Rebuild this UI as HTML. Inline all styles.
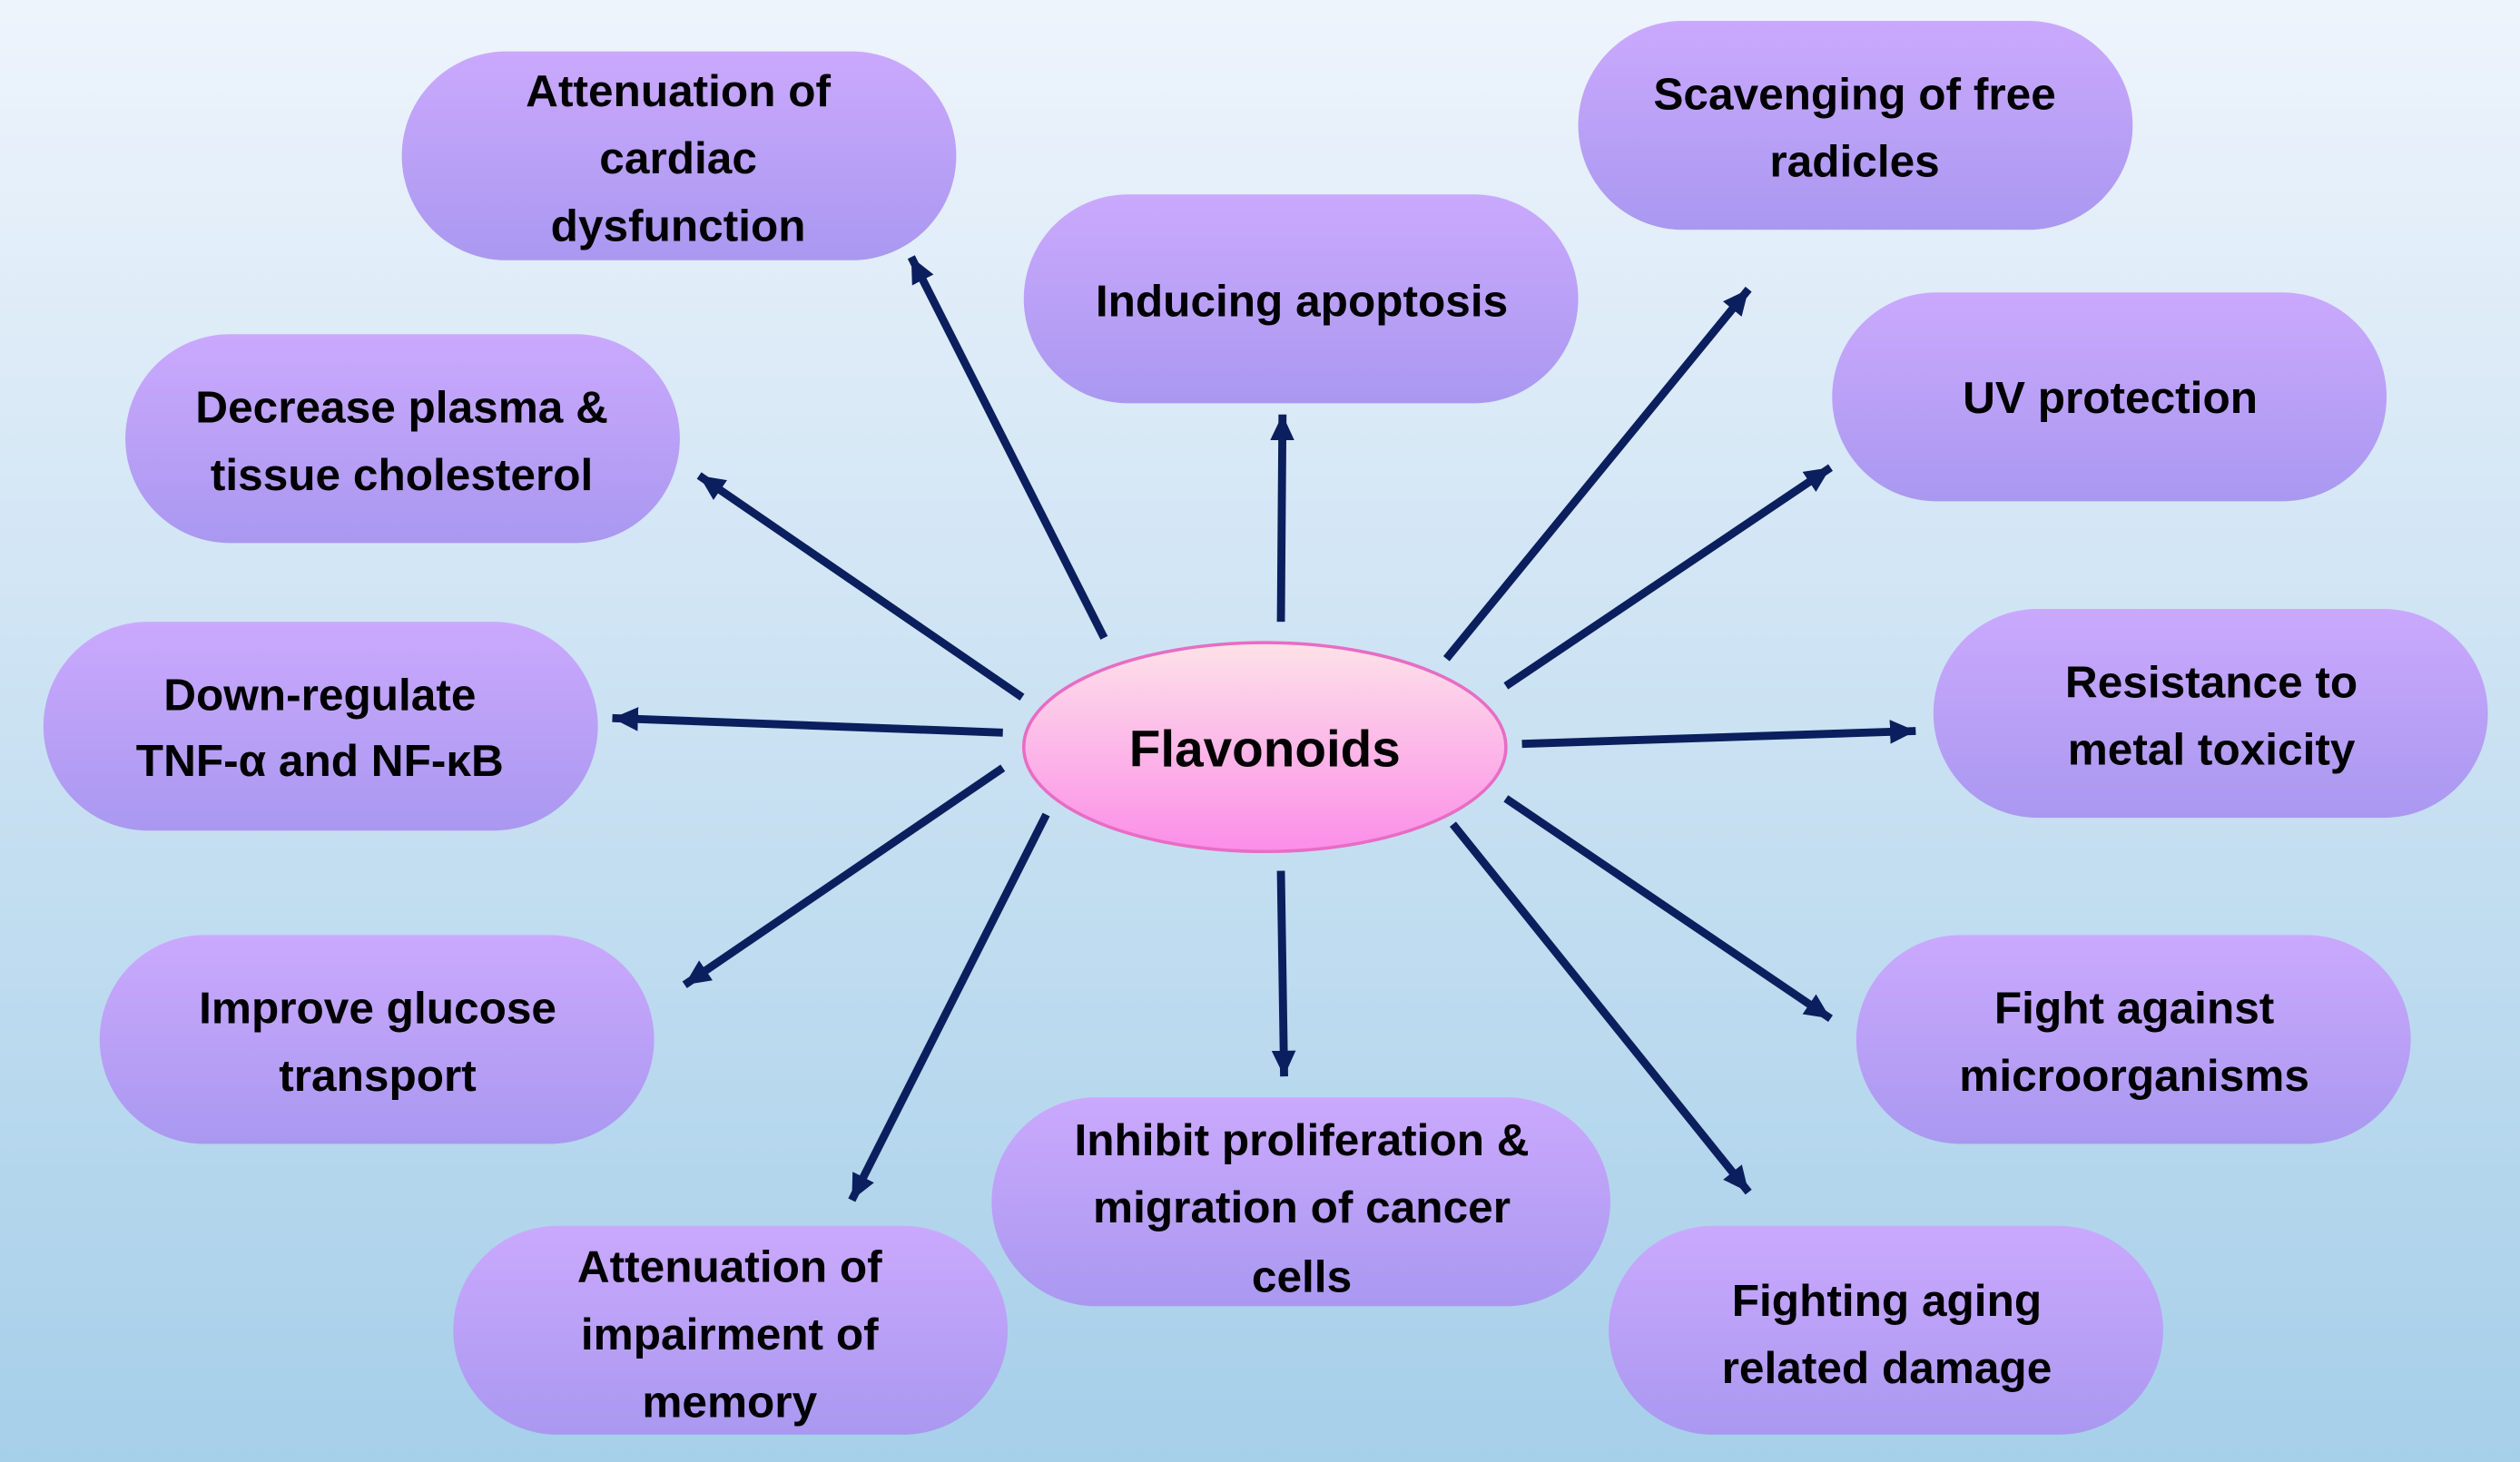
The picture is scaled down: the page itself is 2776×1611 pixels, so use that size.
<!DOCTYPE html>
<html><head><meta charset="utf-8"><style>
html,body{margin:0;padding:0;width:2776px;height:1611px;overflow:hidden}
svg{display:block}
text{font-family:"Liberation Sans",sans-serif;font-weight:bold;fill:#000;text-anchor:middle}
</style></head><body>
<svg width="2776" height="1611" viewBox="0 0 1568 910" preserveAspectRatio="none" xmlns="http://www.w3.org/2000/svg">
<defs>
<linearGradient id="bg" x1="0" y1="0" x2="0" y2="1"><stop offset="0" stop-color="#eef4fc"/><stop offset="1" stop-color="#a6cfe9"/></linearGradient>
<linearGradient id="pill" x1="0" y1="0" x2="0" y2="1"><stop offset="0" stop-color="#caa9fd"/><stop offset="1" stop-color="#aa98f0"/></linearGradient>
<linearGradient id="ell" x1="0" y1="0" x2="0" y2="1"><stop offset="0" stop-color="#fde2e8"/><stop offset="1" stop-color="#fb8ee8"/></linearGradient>
<marker id="ah" markerWidth="3.2" markerHeight="3" refX="3.2" refY="1.5" orient="auto" markerUnits="strokeWidth"><path d="M0,0 L3.2,1.5 L0,3 z" fill="#0b1f5e"/></marker>
</defs>
<rect width="1568" height="910" fill="url(#bg)"/>
<g fill="url(#pill)">
<rect x="250" y="32" width="345" height="130" rx="65"/>
<rect x="637" y="121" width="345" height="130" rx="65"/>
<rect x="982" y="13" width="345" height="130" rx="65"/>
<rect x="78" y="208" width="345" height="130" rx="65"/>
<rect x="1140" y="182" width="345" height="130" rx="65"/>
<rect x="27" y="387" width="345" height="130" rx="65"/>
<rect x="1203" y="379" width="345" height="130" rx="65"/>
<rect x="62" y="582" width="345" height="130" rx="65"/>
<rect x="1155" y="582" width="345" height="130" rx="65"/>
<rect x="617" y="683" width="385" height="130" rx="65"/>
<rect x="282" y="763" width="345" height="130" rx="65"/>
<rect x="1001" y="763" width="345" height="130" rx="65"/>
</g>
<g font-size="28">
<text x="422" y="66">Attenuation of</text><text x="422" y="108">cardiac</text><text x="422" y="150">dysfunction</text>
<text x="810" y="197">Inducing apoptosis</text>
<text x="1154" y="68">Scavenging of free</text><text x="1154" y="110">radicles</text>
<text x="250" y="263">Decrease plasma &amp;</text><text x="250" y="305">tissue cholesterol</text>
<text x="1313" y="257">UV protection</text>
<text x="199" y="442">Down-regulate</text><text x="199" y="483">TNF-α and NF-κB</text>
<text x="1376" y="434">Resistance to</text><text x="1376" y="476">metal toxicity</text>
<text x="235" y="637">Improve glucose</text><text x="235" y="679">transport</text>
<text x="1328" y="637">Fight against</text><text x="1328" y="679">microorganisms</text>
<text x="810" y="719">Inhibit proliferation &amp;</text><text x="810" y="761">migration of cancer</text><text x="810" y="804">cells</text>
<text x="454" y="798">Attenuation of</text><text x="454" y="840">impairment of</text><text x="454" y="882">memory</text>
<text x="1174" y="819">Fighting aging</text><text x="1174" y="861">related damage</text>
</g>
<ellipse cx="787" cy="465" rx="150" ry="65" fill="url(#ell)" stroke="#e86cc4" stroke-width="2"/>
<text x="787" y="477" font-size="32">Flavonoids</text>
<g stroke="#0b1f5e" stroke-width="5" marker-end="url(#ah)" fill="none">
<line x1="687" y1="397" x2="567" y2="160"/>
<line x1="636" y1="434" x2="435" y2="296"/>
<line x1="624" y1="456" x2="381" y2="447"/>
<line x1="624" y1="478" x2="426" y2="613"/>
<line x1="651" y1="507" x2="530" y2="747"/>
<line x1="797" y1="387" x2="798" y2="258"/>
<line x1="797" y1="542" x2="799" y2="670"/>
<line x1="900" y1="410" x2="1088" y2="180"/>
<line x1="937" y1="427" x2="1139" y2="291"/>
<line x1="947" y1="463" x2="1192" y2="455"/>
<line x1="937" y1="497" x2="1139" y2="634"/>
<line x1="904" y1="513" x2="1088" y2="742"/>
</g>
</svg>
</body></html>
